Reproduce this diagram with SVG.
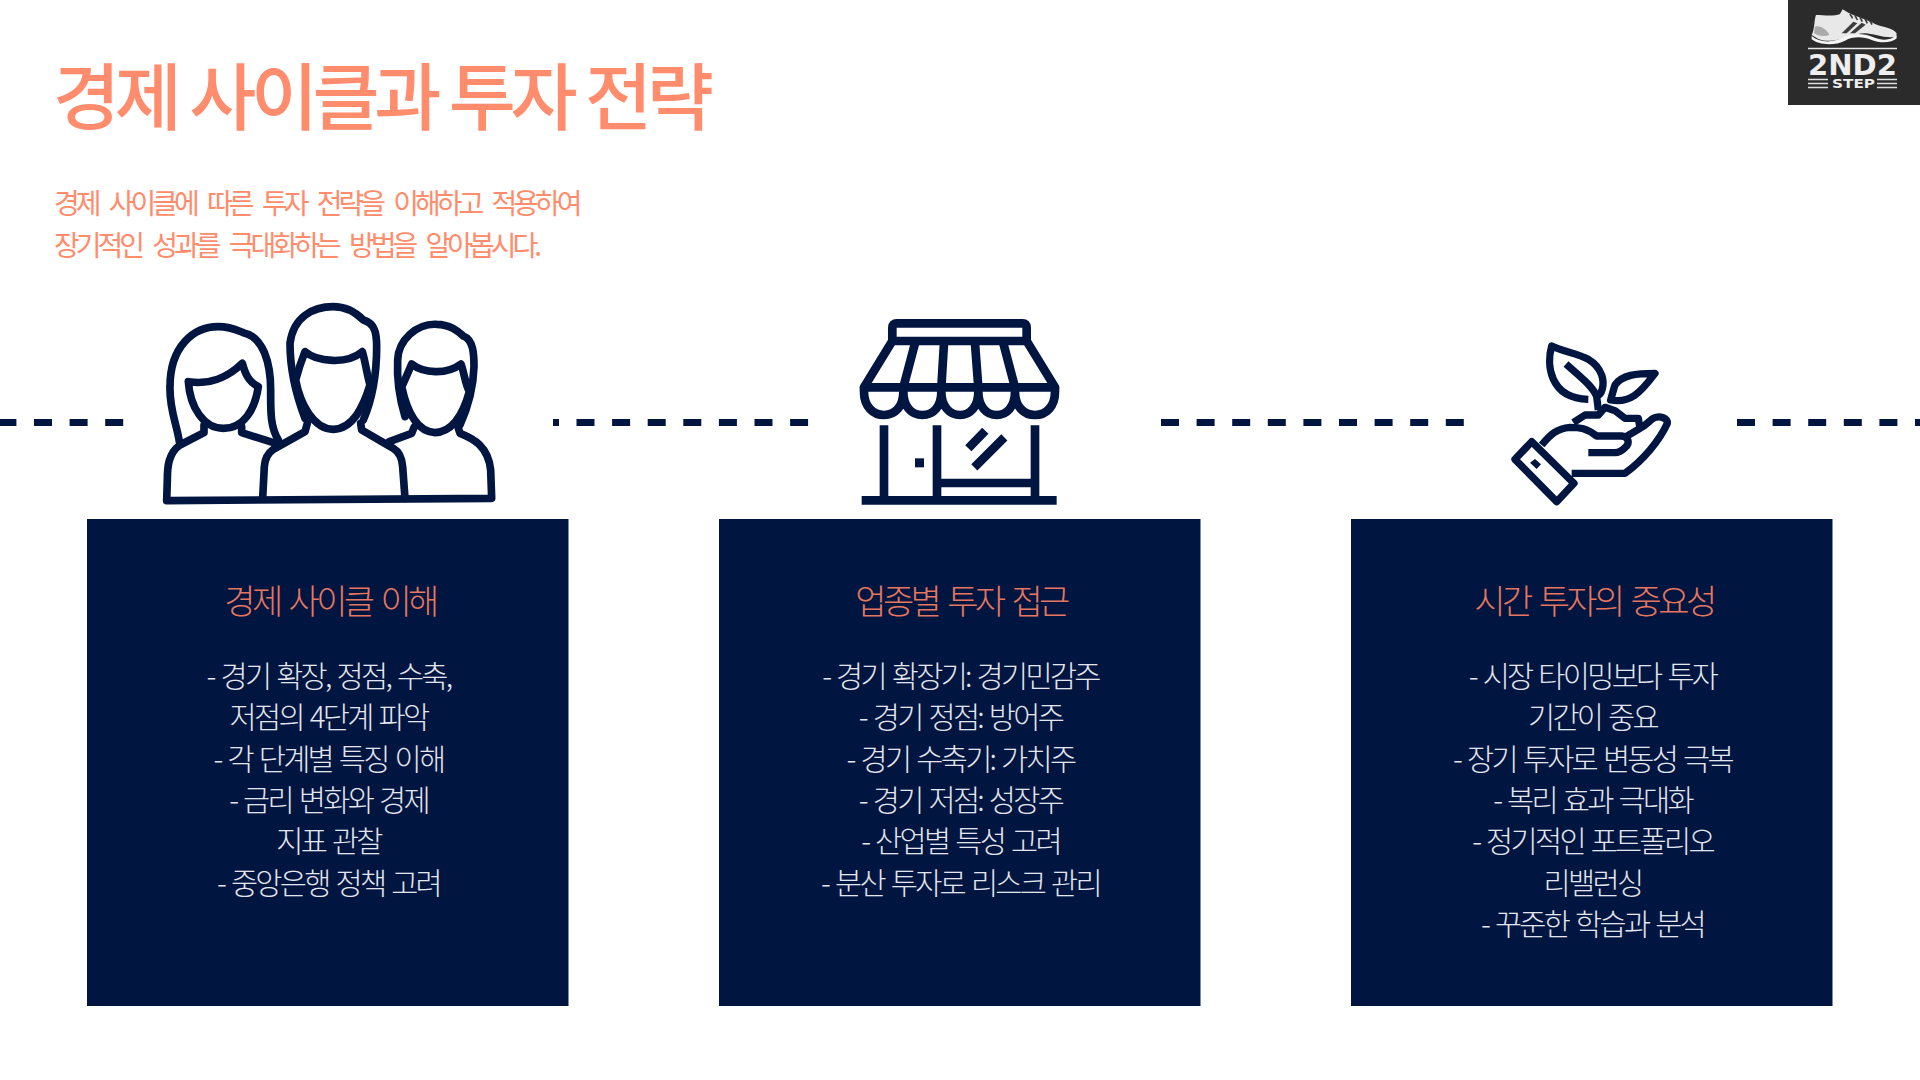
<svg xmlns="http://www.w3.org/2000/svg" width="1920" height="1080" viewBox="0 0 1920 1080">
<style>
text{font-family:"Noto Sans CJK KR","Noto Sans",sans-serif}
.t{font-size:73px;font-weight:500;fill:#ff8c6c;letter-spacing:-5.500px;word-spacing:2px}
.s{font-size:28px;font-weight:400;fill:#ff8c6c;letter-spacing:-4px;word-spacing:9px}
.h{font-size:34px;font-weight:300;fill:#e5775f;letter-spacing:-3.600px;word-spacing:5px;text-anchor:middle}
.b{font-size:29.500px;font-weight:300;fill:#e4e6ee;letter-spacing:-2.700px;word-spacing:3px;text-anchor:middle}
.box{fill:#001540}
.d{stroke:#001540;stroke-width:7;stroke-dasharray:18 17.6;fill:none}
</style>
<rect width="1920" height="1080" fill="#fff"/>
<text class="t" x="53" y="124">경제 사이클과 투자 전략</text>
<text class="s" x="54" y="214">경제 사이클에 따른 투자 전략을 이해하고 적용하여</text>
<text class="s" x="54" y="256">장기적인 성과를 극대화하는 방법을 알아봅시다.</text>
<g id="connectors">
<path class="d" d="M-1.600 422.500H125"/>
<path d="M553 422.500H559" stroke="#001540" stroke-width="7"/>
<path class="d" d="M576.500 422.500H809"/>
<path class="d" d="M1161 422.500H1464"/>
<path class="d" d="M1737 422.500H1920"/>
</g>
<g id="logo">
<rect x="1788" width="132" height="105" fill="#2b2b2b"/>
<g transform="translate(1740 0) scale(.33333)">
<path d="M228 45C250 45 280 50 300 42L308 28L325 38C350 50 385 60 405 72C430 82 462 85 470 100L468 110C440 118 400 100 375 100C340 100 300 125 265 122C240 125 225 110 215 105C225 85 222 60 228 45Z" fill="#e8e8e8"/>
<path d="M225 80C240 75 262 90 268 105C250 110 235 108 222 100Z" fill="#aaa"/>
<path d="M305 100L340 65L352 70L320 100ZM330 100L365 68L377 74L345 100Z" fill="#3c3c3c"/>
<path d="M330 42L338 55M345 46L352 60M360 52L367 65M375 56L382 70M390 62L396 74" stroke="#3c3c3c" stroke-width="5" fill="none"/>
<path d="M215 108C240 130 280 128 310 112C340 98 370 100 400 112C430 124 455 120 470 105V115C455 130 420 130 395 120C370 110 340 108 315 122C285 138 235 135 215 118Z" fill="#f5f5f5"/>
</g>
<path d="M1808 48.500H1897" stroke="#e8e8e8" stroke-width="1.500"/>
<text x="1808" y="75" font-size="27.500" font-weight="700" fill="#eee" textLength="89" lengthAdjust="spacingAndGlyphs" style="font-family:'DejaVu Sans',sans-serif">2ND2</text>
<text x="1832" y="87.500" font-size="11.500" font-weight="700" fill="#eee" textLength="43" lengthAdjust="spacingAndGlyphs" style="font-family:'DejaVu Sans',sans-serif">STEP</text>
<path d="M1808 79.500H1828M1808 83.500H1828M1808 87.500H1828M1877 79.500H1897M1877 83.500H1897M1877 87.500H1897" stroke="#ddd" stroke-width="1.500"/>
</g>
<g id="card1">
<g transform="translate(130 290) scale(.33333)">
<g stroke-width="23" style="fill:none;stroke:#001540;stroke-linejoin:round;stroke-linecap:round">
<path d="M148 455C140 400 118 360 120 290C120 170 190 110 265 110C300 110 320 120 340 128C400 140 422 220 422 300C422 360 420 410 445 450"/>
<path d="M175 275C240 285 290 265 337 220C345 250 355 275 385 290C375 360 340 415 280 415C220 415 180 350 175 275Z"/>
<path d="M222 405V428L150 465C115 490 112 530 112 570L110 632L1085 625L1082 540C1075 470 1030 445 990 430L985 415"/>
<path d="M335 410V428L430 458"/>
<path d="M525 385C500 320 480 250 480 160C490 80 550 50 610 50C650 50 680 70 700 90C735 100 740 130 740 170C740 250 730 320 700 390"/>
<path d="M525 185C560 215 650 225 697 185C705 210 710 250 720 285C700 350 670 415 610 418C550 418 510 340 497 270C505 240 515 210 525 185Z"/>
<path d="M398 625L403 530Q405 495 430 478L525 425L532 400M692 400L695 420L790 475Q815 490 818 530L825 625"/>
<path d="M825 380C810 330 800 270 803 210C805 150 860 100 920 103C960 103 985 125 1000 138C1030 150 1032 190 1032 230C1030 290 1015 350 990 405"/>
<path d="M845 222C880 250 950 255 993 222C1003 250 1005 280 1018 305C1000 370 970 425 915 428C860 425 830 360 815 290C825 270 835 245 845 222Z"/>
<path d="M778 455L845 430L852 412"/>
</g></g>
<rect class="box" x="87" y="519" width="481.500" height="487"/>
<text class="h" x="330" y="613.500">경제 사이클 이해</text>
<text class="b" x="328.500" y="687">- 경기 확장, 정점, 수축,</text>
<text class="b" x="328.500" y="728.300">저점의 4단계 파악</text>
<text class="b" x="328.500" y="769.600">- 각 단계별 특징 이해</text>
<text class="b" x="328.500" y="810.900">- 금리 변화와 경제</text>
<text class="b" x="328.500" y="852.200">지표 관찰</text>
<text class="b" x="328.500" y="893.500">- 중앙은행 정책 고려</text>
</g>
<g id="card2">
<g transform="translate(840 300) scale(.33333)">
<g stroke-width="26" style="fill:none;stroke:#001540;stroke-linejoin:round">
<path d="M157 123V82Q157 70 170 70H548Q560 70 560 82V123Z"/>
<path d="M157 123L72 262H645L560 123"/>
<path d="M225 130L190 262M312 130L304 262M405 130L415 262M490 130L525 262"/>
<path d="M72 262V275C72 320 100 345 132 345C165 345 190 320 190 275C190 320 215 345 247 345C280 345 304 320 304 275C304 320 330 345 360 345C390 345 415 320 415 275C415 320 440 345 470 345C500 345 525 320 525 275C525 320 552 345 585 345C618 345 645 320 645 275V262"/>
<path d="M132 376V600M291 376V600M585 376V600M291 549H585M65 601H650M385 445L436 392M403 502L493 412"/>
</g>
<rect x="225" y="475" width="27" height="27" fill="#001540"/>
</g>
<rect class="box" x="719" y="519" width="481.500" height="487"/>
<text class="h" x="961" y="613.500">업종별 투자 접근</text>
<text class="b" x="960.500" y="687">- 경기 확장기: 경기민감주</text>
<text class="b" x="960.500" y="728.300">- 경기 정점: 방어주</text>
<text class="b" x="960.500" y="769.600">- 경기 수축기: 가치주</text>
<text class="b" x="960.500" y="810.900">- 경기 저점: 성장주</text>
<text class="b" x="960.500" y="852.200">- 산업별 특성 고려</text>
<text class="b" x="960.500" y="893.500">- 분산 투자로 리스크 관리</text>
</g>
<g id="card3">
<g transform="translate(1490 320) scale(.33333)">
<g stroke-width="22" style="fill:none;stroke:#001540;stroke-linejoin:round">
<path d="M295 238C175 235 170 130 185 78C240 105 310 100 335 165C345 195 335 225 322 225"/>
<path d="M228 132C270 170 310 200 320 230L325 270"/>
<path d="M495 160C440 160 395 165 375 195C370 210 365 230 362 240C420 250 450 220 495 160Z"/>
<path d="M250 308L285 285H325L345 262L375 272L405 295H445L450 325"/>
<path d="M155 375C180 345 200 325 240 322C270 322 290 325 320 348H395C415 350 422 370 405 383Q390 398 375 398H295"/>
<path d="M408 350L450 325C470 315 480 300 490 295C510 285 535 295 532 310C510 360 460 420 405 460H245"/>
<path d="M125 365L252 490L200 545L75 418Z"/>
</g>
<path d="M120 428L135 417L153 433L140 447Z" fill="#001540"/>
</g>
<rect class="box" x="1351" y="519" width="481.500" height="487"/>
<text class="h" x="1594" y="613.500">시간 투자의 중요성</text>
<text class="b" x="1592.500" y="687">- 시장 타이밍보다 투자</text>
<text class="b" x="1592.500" y="728.300">기간이 중요</text>
<text class="b" x="1592.500" y="769.600">- 장기 투자로 변동성 극복</text>
<text class="b" x="1592.500" y="810.900">- 복리 효과 극대화</text>
<text class="b" x="1592.500" y="852.200">- 정기적인 포트폴리오</text>
<text class="b" x="1592.500" y="893.500">리밸런싱</text>
<text class="b" x="1592.500" y="934.800">- 꾸준한 학습과 분석</text>
</g>
</svg>
